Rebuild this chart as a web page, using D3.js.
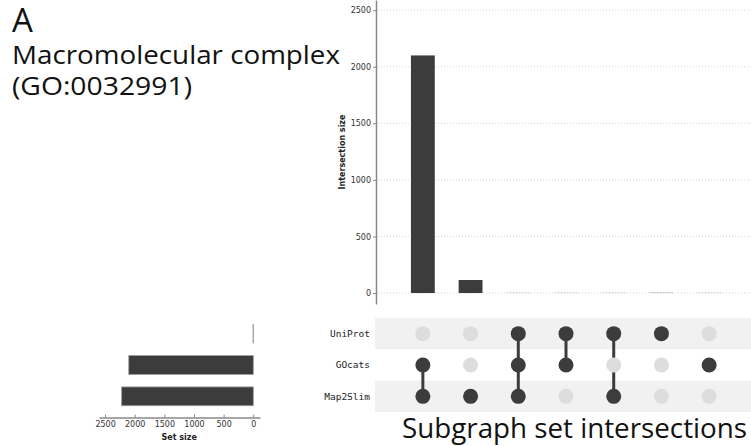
<!DOCTYPE html>
<html>
<head>
<meta charset="utf-8">
<script src="https://cdn.jsdelivr.net/npm/d3@7"></script>
<style>
  body { margin: 0; background: #fff; }
  svg { display: block; }
</style>
</head>
<body>
<div id="chart"></div>
<script>
// sets (rows of the matrix, top to bottom)
const setNames = ["UniProt", "GOcats", "Map2Slim"];
const setSizes = [5, 2100, 2220];

// intersections (columns, left to right)
const intersectionSizes = [2100, 115, 1, 1, 1, 2, 1];
const intersectionMembers = [
  ["GOcats", "Map2Slim"],
  ["Map2Slim"],
  ["UniProt", "GOcats", "Map2Slim"],
  ["UniProt", "GOcats"],
  ["UniProt", "Map2Slim"],
  ["UniProt"],
  ["GOcats"]
];

const intersectionTicks = [0, 500, 1000, 1500, 2000, 2500];
const setSizeTicks = [2500, 2000, 1500, 1000, 500, 0];

const width = 751, height = 446;
const darkFill = "#3c3c3c";
const lightDot = "#dddddd";
const stripe = "#f1f1f1";

const svg = d3.select("#chart").append("svg")
  .attr("width", width)
  .attr("height", height);

// Titles
const titleFont = "'Open Sans', 'Noto Sans', sans-serif";
svg.append("text")
  .attr("x", 12).attr("y", 32)
  .attr("font-family", titleFont)
  .attr("font-size", "33px")
  .attr("fill", "#111")
  .text("A");

svg.append("text")
  .attr("x", 12).attr("y", 64)
  .attr("font-family", titleFont)
  .attr("font-size", "26px")
  .attr("fill", "#111")
  .attr("textLength", 328)
  .attr("lengthAdjust", "spacingAndGlyphs")
  .text("Macromolecular complex");

svg.append("text")
  .attr("x", 12).attr("y", 95)
  .attr("font-family", titleFont)
  .attr("font-size", "26px")
  .attr("fill", "#111")
  .attr("textLength", 180)
  .attr("lengthAdjust", "spacingAndGlyphs")
  .text("(GO:0032991)");

// Scales
const cols = d3.range(intersectionSizes.length);

const x = d3.scaleBand()
  .domain(cols)
  .range([399, 733])
  .paddingInner(0.5)
  .paddingOuter(0.25);

const y = d3.scaleLinear()
  .domain([-97, 2590])
  .range([304, 0]);

const row = d3.scaleBand()
  .domain(setNames)
  .range([318, 412]);

const sx = d3.scaleLinear()
  .domain([-113, 2602])
  .range([260, 99]);

const axisFont = "'DejaVu Sans', sans-serif";

// Intersection size panel
const barPanel = svg.append("g");

barPanel.selectAll(".grid")
  .data(intersectionTicks)
  .join("line")
  .attr("class", "grid")
  .attr("x1", 378).attr("x2", width)
  .attr("y1", d => y(d)).attr("y2", d => y(d))
  .attr("stroke", "#d6d6d6")
  .attr("stroke-width", 1)
  .attr("stroke-dasharray", "1,2");

const yAxis = barPanel.append("g")
  .attr("transform", "translate(376,0)")
  .call(d3.axisLeft(y).tickValues(intersectionTicks).tickFormat(d3.format("d"))
    .tickSize(3).tickPadding(2).tickSizeOuter(0));
yAxis.select(".domain").attr("stroke", "#888").attr("stroke-width", 1.5);
yAxis.selectAll(".tick line").attr("stroke", "#888");
yAxis.selectAll(".tick text")
  .attr("font-family", axisFont)
  .attr("font-size", "8px")
  .attr("fill", "#333");

barPanel.append("text")
  .attr("transform", "translate(345,152) rotate(-90)")
  .attr("text-anchor", "middle")
  .attr("font-family", axisFont)
  .attr("font-size", "8px")
  .attr("font-weight", "bold")
  .attr("fill", "#222")
  .text("Intersection size");

barPanel.selectAll(".ibar")
  .data(intersectionSizes)
  .join("rect")
  .attr("class", "ibar")
  .attr("x", (d, i) => x(i))
  .attr("width", x.bandwidth())
  .attr("y", d => y(d))
  .attr("height", d => y(0) - y(d))
  .attr("fill", darkFill);

// Matrix
const matrix = svg.append("g");

matrix.selectAll(".stripe")
  .data(setNames.filter((d, i) => i % 2 === 0))
  .join("rect")
  .attr("class", "stripe")
  .attr("x", 375)
  .attr("width", width - 375)
  .attr("y", d => row(d))
  .attr("height", row.bandwidth())
  .attr("fill", stripe);

matrix.selectAll(".rowlabel")
  .data(setNames)
  .join("text")
  .attr("class", "rowlabel")
  .attr("x", 370)
  .attr("y", d => row(d) + row.bandwidth() / 2)
  .attr("dy", "0.35em")
  .attr("text-anchor", "end")
  .attr("font-family", "'DejaVu Sans Mono', monospace")
  .attr("font-size", "9.5px")
  .attr("fill", "#222")
  .text(d => d);

const dots = [];
cols.forEach(c => setNames.forEach(s => {
  dots.push({ col: c, set: s, on: intersectionMembers[c].includes(s) });
}));

matrix.selectAll(".link")
  .data(cols.filter(c => intersectionMembers[c].length > 1))
  .join("line")
  .attr("class", "link")
  .attr("x1", c => x(c) + x.bandwidth() / 2)
  .attr("x2", c => x(c) + x.bandwidth() / 2)
  .attr("y1", c => d3.min(intersectionMembers[c], s => row(s)) + row.bandwidth() / 2)
  .attr("y2", c => d3.max(intersectionMembers[c], s => row(s)) + row.bandwidth() / 2)
  .attr("stroke", darkFill)
  .attr("stroke-width", 3);

matrix.selectAll(".dot")
  .data(dots)
  .join("circle")
  .attr("class", "dot")
  .attr("cx", d => x(d.col) + x.bandwidth() / 2)
  .attr("cy", d => row(d.set) + row.bandwidth() / 2)
  .attr("r", 7.5)
  .attr("fill", d => d.on ? darkFill : lightDot);

// Set size panel
const sizePanel = svg.append("g");
const barH = row.bandwidth() * 0.6;

sizePanel.selectAll(".sbar")
  .data(setNames)
  .join("rect")
  .attr("class", "sbar")
  .attr("x", (d, i) => sx(setSizes[i]))
  .attr("width", (d, i) => sx(0) - sx(setSizes[i]))
  .attr("y", d => row(d) + (row.bandwidth() - barH) / 2)
  .attr("height", barH)
  .attr("fill", darkFill)
  .attr("stroke", "#999")
  .attr("stroke-width", 0.8);

const sAxis = sizePanel.append("g")
  .attr("transform", "translate(0,417.5)")
  .call(d3.axisBottom(sx).tickValues(setSizeTicks).tickFormat(d3.format("d"))
    .tickSize(-3).tickPadding(4).tickSizeOuter(0));
sAxis.select(".domain").attr("stroke", "#888").attr("stroke-width", 1.5);
sAxis.selectAll(".tick line").attr("stroke", "#888");
sAxis.selectAll(".tick text")
  .attr("font-family", axisFont)
  .attr("font-size", "8px")
  .attr("fill", "#333");

sizePanel.append("text")
  .attr("x", (sx(0) + sx(2500)) / 2)
  .attr("y", 440)
  .attr("text-anchor", "middle")
  .attr("font-family", axisFont)
  .attr("font-size", "8px")
  .attr("font-weight", "bold")
  .attr("fill", "#222")
  .text("Set size");

// Bottom caption
svg.append("text")
  .attr("x", 402).attr("y", 438)
  .attr("font-family", titleFont)
  .attr("font-size", "27px")
  .attr("fill", "#111")
  .attr("textLength", 345)
  .attr("lengthAdjust", "spacingAndGlyphs")
  .text("Subgraph set intersections");
</script>
</body>
</html>
